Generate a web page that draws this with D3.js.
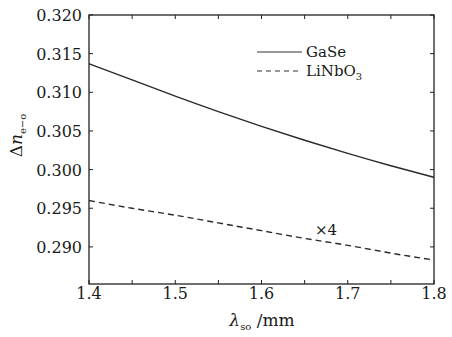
<!DOCTYPE html>
<html>
<head>
<meta charset="utf-8">
<script src="https://cdn.jsdelivr.net/npm/d3@7"></script>
<style>
  body { margin: 0; background: #fff; }
  text { font-family: "DejaVu Serif", serif; fill: #1a1a1a; }
</style>
</head>
<body>
<div id="chart"></div>
<script>
// wavelength (mm)
const lambda = [1.4, 1.45, 1.5, 1.55, 1.6, 1.65, 1.7, 1.75, 1.8];
// birefringence
const gase = [0.3137, 0.3116, 0.3095, 0.3075, 0.3056, 0.3038, 0.3021, 0.3005, 0.2990];
const linbo3 = [0.2960, 0.2950, 0.2941, 0.2931, 0.2921, 0.2911, 0.2902, 0.2892, 0.2883];
const xTicks = [1.4, 1.5, 1.6, 1.7, 1.8];
const xMinor = [1.45, 1.55, 1.65, 1.75];
const yTicks = [0.290, 0.295, 0.300, 0.305, 0.310, 0.315, 0.320];

const width = 452, height = 337;
const margin = { top: 15, right: 18, bottom: 53, left: 89 };
const w = width - margin.left - margin.right;
const h = height - margin.top - margin.bottom;

const x = d3.scaleLinear().domain([1.4, 1.8]).range([0, w]);
const y = d3.scaleLinear().domain([0.2852, 0.320]).range([h, 0]);

const svg = d3.select('#chart').append('svg')
  .attr('width', width)
  .attr('height', height);

const g = svg.append('g')
  .attr('transform', `translate(${margin.left},${margin.top})`);

// frame
g.append('rect')
  .attr('width', w).attr('height', h)
  .attr('fill', 'none').attr('stroke', '#222').attr('stroke-width', 1.3);

// ticks, inward on all sides
const tk = 4;
const allX = xTicks.concat(xMinor);
g.selectAll('.xt-b').data(allX).join('line')
  .attr('x1', d => x(d)).attr('x2', d => x(d))
  .attr('y1', h).attr('y2', h - tk)
  .attr('stroke', '#222');
g.selectAll('.xt-t').data(allX).join('line')
  .attr('x1', d => x(d)).attr('x2', d => x(d))
  .attr('y1', 0).attr('y2', tk)
  .attr('stroke', '#222');
g.selectAll('.yt-l').data(yTicks).join('line')
  .attr('x1', 0).attr('x2', tk)
  .attr('y1', d => y(d)).attr('y2', d => y(d))
  .attr('stroke', '#222');
g.selectAll('.yt-r').data(yTicks).join('line')
  .attr('x1', w).attr('x2', w - tk)
  .attr('y1', d => y(d)).attr('y2', d => y(d))
  .attr('stroke', '#222');

// tick labels
g.selectAll('.xl').data(xTicks).join('text')
  .attr('x', d => x(d)).attr('y', h + 15)
  .attr('text-anchor', 'middle')
  .attr('font-size', 16)
  .text(d => d.toFixed(1));
g.selectAll('.yl').data(yTicks).join('text')
  .attr('x', -7).attr('y', d => y(d) + 6)
  .attr('text-anchor', 'end')
  .attr('font-size', 16)
  .text(d => d.toFixed(3));

// lines
const line = vals => d3.line()
  .x((d, i) => x(lambda[i]))
  .y(d => y(d))
  .curve(d3.curveNatural)(vals);

g.append('path').attr('d', line(gase))
  .attr('fill', 'none').attr('stroke', '#2a2a2a').attr('stroke-width', 1.4);
g.append('path').attr('d', line(linbo3))
  .attr('fill', 'none').attr('stroke', '#2a2a2a').attr('stroke-width', 1.4)
  .attr('stroke-dasharray', '6,4');

// ×4 note
g.append('text')
  .attr('x', 315 - margin.left).attr('y', 235 - margin.top)
  .attr('font-size', 15)
  .text('×4');

// legend
const leg = svg.append('g');
leg.append('line').attr('x1', 257).attr('x2', 302).attr('y1', 52).attr('y2', 52)
  .attr('stroke', '#333').attr('stroke-width', 1.2);
leg.append('text').attr('x', 306).attr('y', 57).attr('font-size', 15).text('GaSe');
leg.append('line').attr('x1', 257).attr('x2', 302).attr('y1', 71).attr('y2', 71)
  .attr('stroke', '#333').attr('stroke-width', 1.2).attr('stroke-dasharray', '5,4');
const lt = leg.append('text').attr('x', 306).attr('y', 76).attr('font-size', 15);
lt.append('tspan').text('LiNbO');
lt.append('tspan').attr('font-size', 10).attr('dy', 4).text('3');

// axis titles
const xt = svg.append('text')
  .attr('x', 262).attr('y', 326)
  .attr('text-anchor', 'middle')
  .attr('font-size', 17);
xt.append('tspan').attr('font-style', 'italic').text('λ');
xt.append('tspan').attr('font-size', 10).attr('dy', 4).text('so');
xt.append('tspan').attr('dy', -4).text(' /mm');

const yt = svg.append('text')
  .attr('transform', `translate(22,${margin.top + h / 2 - 14}) rotate(-90)`)
  .attr('text-anchor', 'middle')
  .attr('font-size', 17);
yt.append('tspan').text('Δ');
yt.append('tspan').attr('font-style', 'italic').text('n');
yt.append('tspan').attr('font-size', 10).attr('dy', 4).text('e−o');
</script>
</body>
</html>
